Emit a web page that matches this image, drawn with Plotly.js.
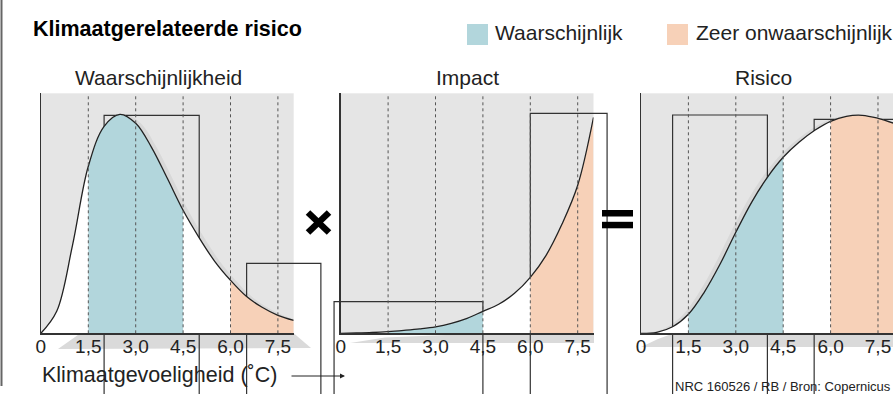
<!DOCTYPE html>
<html><head><meta charset="utf-8">
<script src="https://cdn.plot.ly/plotly-3.0.1.min.js"></script>
<style>html,body{margin:0;padding:0;background:#fff;}#chart{width:893px;height:394px;}</style>
</head><body><div id="chart"></div>
<script>
// ---- data ----
const xTemp = [0, 0.5, 1, 1.5, 2, 2.5, 3, 3.5, 4, 4.5, 5, 5.5, 6, 6.5, 7, 7.5, 8];
const waarschijnlijkheid = [0, 22, 88, 167, 207, 219, 210, 186, 155, 123, 96, 72, 53, 37, 26, 18, 13];
const impact = [0, 0.3, 0.8, 1.7, 3, 4.5, 6.5, 10, 15, 22, 29, 40, 56, 78, 109, 148, 216];
const risico = [0, 1, 6.5, 19, 41, 69, 101, 131, 156, 176, 191, 203, 212, 217, 218, 215, 210];
const tickVals = [0, 1.5, 3, 4.5, 6, 7.5];
const tickText = ['0', '1,5', '3,0', '4,5', '6,0', '7,5'];
const guideVals = [1.5, 3, 4.5, 6, 7.5];
const likelyRange = [1.5, 4.5];
const unlikelyRange = [6, 8];
const panelTitles = ['Waarschijnlijkheid', 'Impact', 'Risico'];
const legendLabels = ['Waarschijnlijk', 'Zeer onwaarschijnlijk'];
// open box outlines seen in the reference (°C from, °C to, height)
const boxesP1 = [[2.0, 5.01, 218], [6.51, 8.86, 70]];
const boxesP2 = [[-0.21, 4.5, 31.6], [6.0, 8.43, 220]];
const boxesP3 = [[1.0, 4.0, 218.3], [5.48, 9.5, 214]];

// ---- style ----
const W = 893, H = 394;
const FONT = 'Liberation Sans, Arial, sans-serif';
const INK = '#222';
const GRAY = '#e5e5e5';
const BLUE = '#b2d6dc';
const ORANGE = '#f7d1b8';
const YMAX = 240;
const px = p => p / W;
const py = p => 1 - p / H;
const yDom = [py(333.3), py(93.3)];

const panels = [
  {vals: waarschijnlijkheid, dom: [px(40.9), px(293.7)], xmax: 8, shadow: -0.16, boxes: boxesP1, titleX: 158},
  {vals: impact, dom: [px(340.7), px(593.5)], xmax: 8, shadow: null, boxes: boxesP2, titleX: 467.5},
  {vals: risico, dom: [px(641), 1], xmax: 7.975, shadow: 0.16, boxes: boxesP3, titleX: 763.5}
];

function subset(vals, r) {
  const xs = [], ys = [];
  xTemp.forEach((x, i) => { if (x >= r[0] && x <= r[1]) { xs.push(x); ys.push(vals[i]); } });
  return {xs, ys};
}

const data = [];
const layout = {
  width: W, height: H, autosize: false,
  margin: {l: 0, r: 0, t: 0, b: 0, pad: 0},
  paper_bgcolor: '#fff', plot_bgcolor: GRAY,
  showlegend: false, font: {family: FONT, color: INK},
  shapes: [], annotations: []
};

let overlayIdx = 4;
panels.forEach((p, k) => {
  const n = k + 1;
  const mainX = 'x' + (n === 1 ? '' : n), mainY = 'y' + (n === 1 ? '' : n);
  const mainXKey = 'xaxis' + (n === 1 ? '' : n), mainYKey = 'yaxis' + (n === 1 ? '' : n);
  let vx = mainX, vy = mainY, vxKey = mainXKey, vyKey = mainYKey;
  const tickAxis = {
    range: [0, p.xmax], tickvals: tickVals, ticktext: tickText, ticks: '',
    showgrid: false, zeroline: false, showline: true, linecolor: '#333', linewidth: 1.3,
    tickfont: {family: FONT, size: 19, color: INK}, ticklabelstandoff: -4, fixedrange: true
  };
  const valAxis = {range: [0, YMAX], showgrid: false, zeroline: false, showticklabels: false,
    showline: true, linecolor: '#333', linewidth: 1.3, ticks: '', fixedrange: true};
  if (p.shadow !== null) {
    // main subplot carries the drop shadow through a shifted scale
    layout[mainXKey] = {domain: p.dom, anchor: mainY, range: [p.shadow, p.shadow + p.xmax], visible: false, fixedrange: true};
    layout[mainYKey] = {domain: yDom, anchor: mainX, range: [0, YMAX], visible: false, fixedrange: true};
    data.push({x: xTemp, y: p.vals, xaxis: mainX, yaxis: mainY, type: 'scatter', mode: 'lines',
      line: {width: 0, shape: 'spline'}, fill: 'tozeroy', fillcolor: 'rgba(0,0,0,0.055)', hoverinfo: 'skip'});
    vx = 'x' + overlayIdx; vy = 'y' + overlayIdx; vxKey = 'xaxis' + overlayIdx; vyKey = 'yaxis' + overlayIdx;
    overlayIdx++;
    layout[vxKey] = Object.assign({overlaying: mainX, anchor: vy}, tickAxis);
    layout[vyKey] = Object.assign({overlaying: mainY, anchor: vx}, valAxis);
  } else {
    layout[vxKey] = Object.assign({domain: p.dom, anchor: vy}, tickAxis);
    layout[vyKey] = Object.assign({domain: yDom, anchor: vx}, valAxis);
  }
  const base = {xaxis: vx, yaxis: vy, type: 'scatter', hoverinfo: 'skip'};
  data.push(Object.assign({x: xTemp, y: p.vals, mode: 'lines', line: {width: 0, shape: 'spline'},
    fill: 'tozeroy', fillcolor: '#fff'}, base));
  const b = subset(p.vals, likelyRange);
  data.push(Object.assign({x: b.xs, y: b.ys, mode: 'lines', line: {width: 0, shape: 'spline'},
    fill: 'tozeroy', fillcolor: BLUE}, base));
  const o = subset(p.vals, unlikelyRange);
  data.push(Object.assign({x: o.xs, y: o.ys, mode: 'lines', line: {width: 0, shape: 'spline'},
    fill: 'tozeroy', fillcolor: ORANGE}, base));
  data.push(Object.assign({x: xTemp, y: p.vals, mode: 'lines', line: {width: 1.3, color: INK, shape: 'spline'}}, base));
  const gx = [], gy = [];
  guideVals.forEach(g => { gx.push(g, g, null); gy.push(0, YMAX, null); });
  data.push(Object.assign({x: gx, y: gy, mode: 'lines', line: {width: 1, color: '#555', dash: 'dot'}}, base));

  // open box outlines (drawn beneath the fills)
  p.boxes.forEach(bx => {
    layout.shapes.push({type: 'rect', layer: 'below', xref: mainX + ' domain', yref: mainY + ' domain',
      x0: bx[0] / p.xmax, x1: bx[1] / p.xmax, y0: -0.4, y1: bx[2] / YMAX,
      line: {color: '#333', width: 1.2}, fillcolor: 'rgba(0,0,0,0)'});
  });
  layout.annotations.push({xref: 'paper', yref: 'paper', x: px(p.titleX), y: py(77.5), xanchor: 'center', yanchor: 'middle',
    text: panelTitles[k], showarrow: false, font: {family: FONT, size: 21, color: INK}});
});

// gray shadow bands under the axes
const bandPaths = [
  [[58, 349], [80, 333.5], [294, 333.5], [311, 348]],
  [[350, 343], [385, 337.5], [483, 333.5], [594, 333.5], [594, 343]],
  [[641, 347], [658, 339], [673, 333.5], [893, 333.5], [893, 347]]
];
bandPaths.forEach(pts => {
  const d = 'M' + pts.map(q => px(q[0]) + ',' + py(q[1])).join('L') + 'Z';
  layout.shapes.unshift({type: 'path', layer: 'below', xref: 'paper', yref: 'paper', path: d,
    fillcolor: '#dadada', line: {width: 0}});
});
// left page rule
layout.shapes.push({type: 'line', xref: 'paper', yref: 'paper', x0: px(1.5), x1: px(1.5), y0: py(0), y1: py(386),
  line: {color: '#666', width: 2}});
// multiplication sign
layout.shapes.push({type: 'line', xref: 'paper', yref: 'paper', x0: px(308), y0: py(212.5), x1: px(329), y1: py(232.5), line: {color: '#000', width: 6.5}});
layout.shapes.push({type: 'line', xref: 'paper', yref: 'paper', x0: px(308), y0: py(232.5), x1: px(329), y1: py(212.5), line: {color: '#000', width: 6.5}});
// equals sign
layout.shapes.push({type: 'rect', xref: 'paper', yref: 'paper', x0: px(602), x1: px(633), y0: py(210), y1: py(216.5), fillcolor: '#000', line: {width: 0}});
layout.shapes.push({type: 'rect', xref: 'paper', yref: 'paper', x0: px(602), x1: px(633), y0: py(221.8), y1: py(228.3), fillcolor: '#000', line: {width: 0}});
// legend swatches
layout.shapes.push({type: 'rect', xref: 'paper', yref: 'paper', x0: px(467), x1: px(488), y0: py(24), y1: py(45), fillcolor: BLUE, line: {width: 0}});
layout.shapes.push({type: 'rect', xref: 'paper', yref: 'paper', x0: px(667), x1: px(688), y0: py(24), y1: py(45), fillcolor: ORANGE, line: {width: 0}});

const ann = (t, x, y, size, anchor, extra) => Object.assign({xref: 'paper', yref: 'paper', x: px(x), y: py(y),
  xanchor: anchor, yanchor: 'middle', text: t, showarrow: false, font: {family: FONT, size: size, color: INK}}, extra || {});
layout.annotations.push(ann('<b>Klimaatgerelateerde risico</b>', 31, 28.5, 21.5, 'left', {font: {family: FONT, size: 21.5, color: '#000'}}));
layout.annotations.push(ann(legendLabels[0], 493, 33, 21, 'left'));
layout.annotations.push(ann(legendLabels[1], 694, 33, 21, 'left'));
layout.annotations.push(ann('Klimaatgevoeligheid (˚C)', 40, 374.5, 21.5, 'left'));
layout.annotations.push(ann('NRC 160526 / RB / Bron: Copernicus', 673, 386, 13, 'left'));
layout.annotations.push({xref: 'paper', yref: 'paper', x: px(345), y: py(376), ax: -55, ay: 0, text: '',
  showarrow: true, arrowhead: 2, arrowsize: 1, arrowwidth: 1, arrowcolor: INK});

Plotly.newPlot('chart', data, layout, {staticPlot: true, displayModeBar: false});
</script></body></html>
